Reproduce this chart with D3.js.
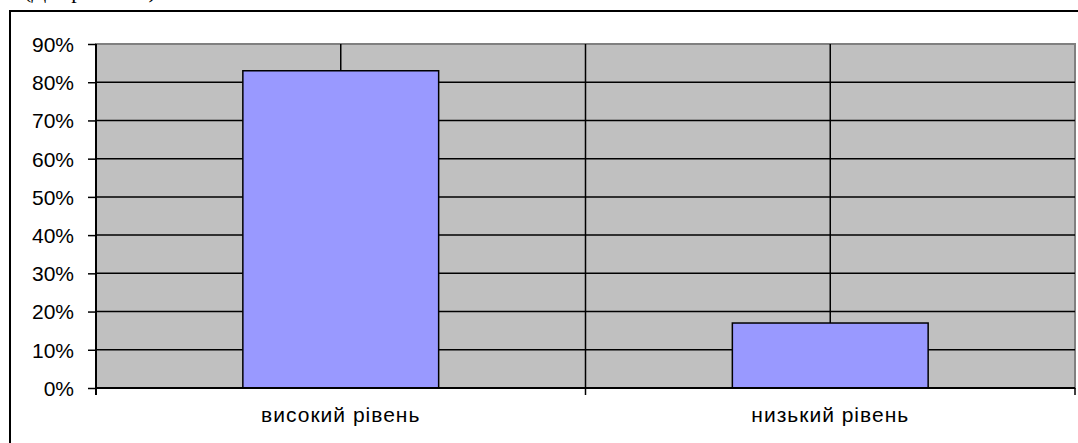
<!DOCTYPE html>
<html>
<head>
<meta charset="utf-8">
<script src="https://cdn.jsdelivr.net/npm/d3@7"></script>
<style>
  body { margin: 0; background: #fff; }
  svg { display: block; }
</style>
</head>
<body>
<svg id="chart" width="1078" height="443"></svg>
<script>
'use strict'

const categories = ['високий рівень', 'низький рівень']
const values = [0.83, 0.17]
const yTicks = [0, 0.1, 0.2, 0.3, 0.4, 0.5, 0.6, 0.7, 0.8, 0.9]

const svg = d3.select('#chart')
const plotL = 96, plotT = 44, plotR = 1075, plotB = 388
const labelFont = 'Liberation Sans, Arial'

// caption cut off at the top of the picture
svg.append('text')
  .attr('x', 24).attr('y', -2)
  .attr('font-family', 'Liberation Serif')
  .attr('font-size', 22)
  .text('(Діаграма 2.1)')

// outer chart frame
svg.append('rect')
  .attr('x', 10).attr('y', 11)
  .attr('width', 1090).attr('height', 460)
  .attr('fill', 'none').attr('stroke', '#000').attr('stroke-width', 2)

const x = d3.scaleBand().domain(categories).range([plotL, plotR])
const y = d3.scaleLinear().domain([0, 0.9]).range([plotB, plotT])

// plot area
svg.append('rect')
  .attr('x', plotL).attr('y', plotT)
  .attr('width', plotR - plotL).attr('height', plotB - plotT)
  .attr('fill', '#c0c0c0').attr('stroke', '#808080').attr('stroke-width', 2)

// horizontal gridlines
svg.append('g').selectAll('line')
  .data(yTicks.slice(1, -1))
  .join('line')
  .attr('x1', plotL).attr('x2', plotR)
  .attr('y1', d => y(d)).attr('y2', d => y(d))
  .attr('stroke', '#000').attr('stroke-width', 1.5)

// vertical gridlines: category centres and boundaries
const vLines = categories.map(c => x(c) + x.bandwidth() / 2)
  .concat(categories.slice(1).map(c => x(c)))
svg.append('g').selectAll('line')
  .data(vLines)
  .join('line')
  .attr('x1', d => d).attr('x2', d => d)
  .attr('y1', plotT).attr('y2', plotB)
  .attr('stroke', '#000').attr('stroke-width', 1.5)

// bars
const barW = x.bandwidth() * 0.4
svg.append('g').selectAll('rect')
  .data(values)
  .join('rect')
  .attr('x', (d, i) => x(categories[i]) + x.bandwidth() / 2 - barW / 2)
  .attr('y', d => y(d))
  .attr('width', barW)
  .attr('height', d => plotB - y(d))
  .attr('fill', '#9999ff')
  .attr('stroke', '#000').attr('stroke-width', 1.5)

// y axis
const yAxis = svg.append('g')
  .attr('transform', `translate(${plotL},0)`)
  .call(d3.axisLeft(y).tickValues(yTicks).tickFormat(d3.format('.0%'))
    .tickSize(8).tickPadding(14))
yAxis.select('.domain').attr('stroke', '#000').attr('stroke-width', 2)
  .attr('d', `M0,${plotT}V${plotB + 7}`)
yAxis.selectAll('.tick line').attr('stroke', '#000').attr('stroke-width', 1.5)
yAxis.selectAll('text')
  .attr('font-family', labelFont)
  .attr('font-size', 21).attr('fill', '#000')
  .attr('dy', '0.35em')

// x axis
const xTickPos = categories.map(c => x(c)).concat([plotR])
svg.append('line')
  .attr('x1', plotL).attr('x2', plotR)
  .attr('y1', plotB).attr('y2', plotB)
  .attr('stroke', '#000').attr('stroke-width', 2)
svg.append('g').selectAll('line')
  .data(xTickPos)
  .join('line')
  .attr('x1', d => d).attr('x2', d => d)
  .attr('y1', plotB).attr('y2', plotB + 7)
  .attr('stroke', '#000').attr('stroke-width', 1.5)
svg.append('g').selectAll('text')
  .data(categories)
  .join('text')
  .attr('x', d => x(d) + x.bandwidth() / 2)
  .attr('y', 422)
  .attr('text-anchor', 'middle')
  .attr('font-family', labelFont)
  .attr('font-size', 21)
  .attr('letter-spacing', 1)
  .text(d => d)
</script>
</body>
</html>
